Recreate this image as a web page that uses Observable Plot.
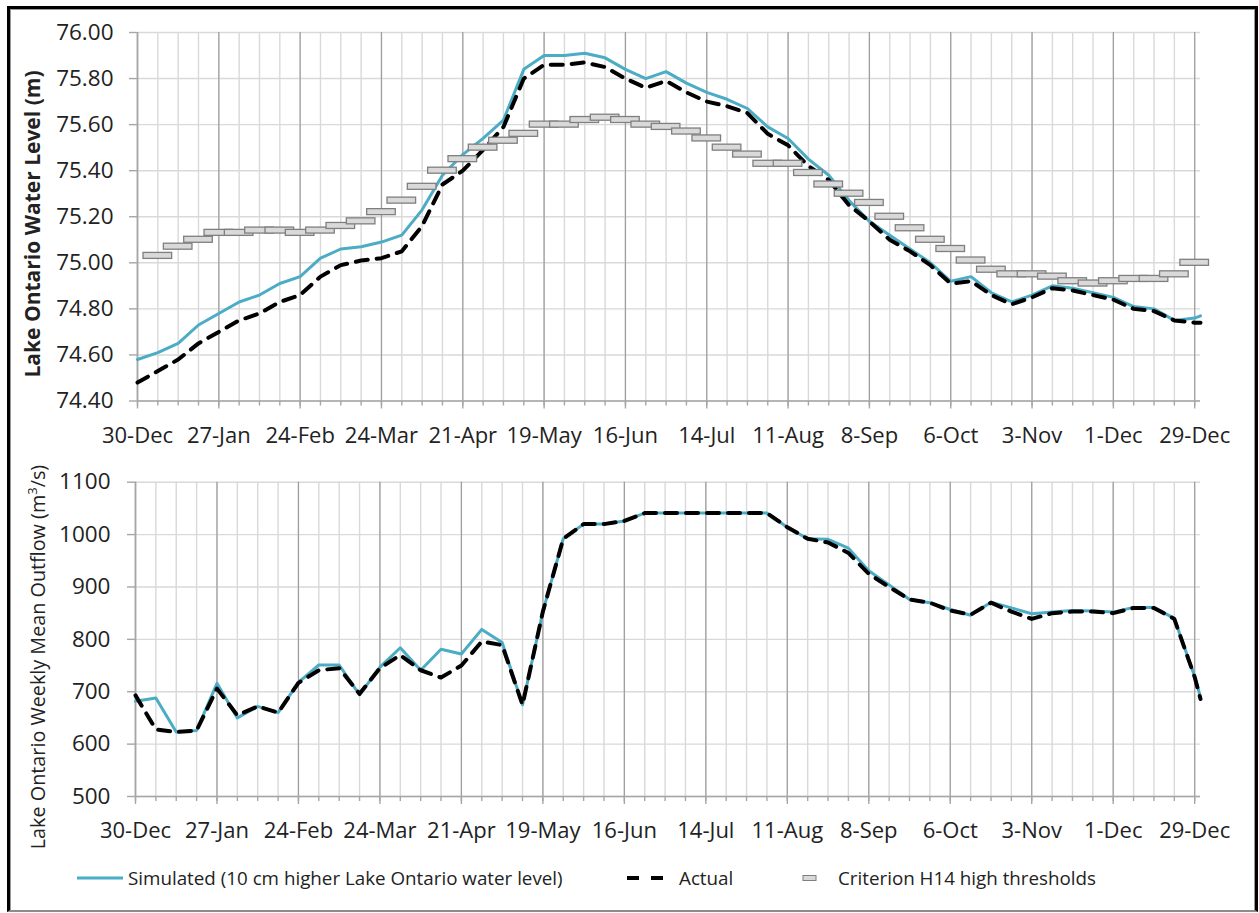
<!DOCTYPE html>
<html>
<head>
<meta charset="utf-8">
<script src="https://cdn.jsdelivr.net/npm/d3@7"></script>
<script src="https://cdn.jsdelivr.net/npm/@observablehq/plot@0.6"></script>
<style>
  body { margin: 0; background: #fff; font-family: "Open Sans", sans-serif; }
  #wrap { position: relative; width: 1259px; height: 913px; overflow: hidden; background: #fff; }
  #frame { position: absolute; left: 7px; top: 6px; width: 1245px; height: 901px;
           border: 3px solid #000; border-bottom: 2px solid #8c8c8c;
           box-shadow: inset 1px 1px 0 #9a9a9a, inset -1px 0 0 #9a9a9a; }
  .panel { position: absolute; left: 0; }
</style>
</head>
<body>
<div id="wrap">
  <div id="frame"></div>
  <div id="top" class="panel" style="top:0px"></div>
  <div id="bottom" class="panel" style="top:450px"></div>
  <div id="legend" class="panel" style="top:850px"></div>
</div>
<script>
// ---------- data ----------
const weeks = d3.range(0, 53);          // weekly points, 30-Dec .. 29-Dec
const yearEnd = 52 + 2 / 7;             // 31-Dec (last point of each series)
const xPoints = [...weeks, yearEnd];

const tickLabels = ["30-Dec","27-Jan","24-Feb","24-Mar","21-Apr","19-May","16-Jun",
                    "14-Jul","11-Aug","8-Sep","6-Oct","3-Nov","1-Dec","29-Dec"];

// Lake Ontario water level (m)
const levelSimulated = [74.58,74.61,74.65,74.73,74.78,74.83,74.86,74.91,74.94,75.02,
  75.06,75.07,75.09,75.12,75.23,75.38,75.47,75.54,75.62,75.84,
  75.90,75.90,75.91,75.89,75.84,75.80,75.83,75.78,75.74,75.71,
  75.67,75.59,75.54,75.45,75.38,75.27,75.18,75.12,75.06,75.00,
  74.92,74.94,74.87,74.83,74.86,74.90,74.89,74.87,74.85,74.81,
  74.80,74.75,74.76,74.77];
const levelActual = [74.48,74.53,74.58,74.65,74.70,74.75,74.78,74.83,74.86,74.94,
  74.99,75.01,75.02,75.05,75.16,75.34,75.40,75.49,75.59,75.80,
  75.86,75.86,75.87,75.85,75.80,75.76,75.79,75.74,75.70,75.68,
  75.65,75.56,75.51,75.42,75.36,75.25,75.18,75.10,75.05,74.99,
  74.91,74.92,74.86,74.82,74.85,74.89,74.88,74.86,74.84,74.80,
  74.79,74.75,74.74,74.74];
// Criterion H14 high thresholds, weeks 1..52
const thresholdWeeks = d3.range(1, 53);
const thresholds = [75.03,75.07,75.10,75.13,75.13,75.14,75.14,75.13,75.14,75.16,
  75.18,75.22,75.27,75.33,75.40,75.45,75.50,75.53,75.56,75.60,
  75.60,75.62,75.63,75.62,75.60,75.59,75.57,75.54,75.50,75.47,
  75.43,75.43,75.39,75.34,75.30,75.26,75.20,75.15,75.10,75.06,
  75.01,74.97,74.95,74.95,74.94,74.92,74.91,74.92,74.93,74.93,
  74.95,75.00];

// Lake Ontario weekly mean outflow (m3/s)
const flowSimulated = [682,688,623,626,716,650,672,660,718,751,
  751,694,747,784,741,781,772,819,794,675,
  853,992,1020,1020,1026,1041,1041,1041,1041,1041,
  1041,1041,1014,992,991,974,931,904,876,870,
  857,846,871,860,849,852,855,854,852,861,
  861,840,729,690];
const flowActual = [693,628,623,626,706,655,672,660,717,741,
  745,696,745,770,741,727,750,796,789,675,
  853,992,1020,1020,1026,1041,1041,1041,1041,1041,
  1041,1041,1014,992,985,965,925,900,876,870,
  855,847,870,853,839,850,853,853,850,860,
  860,839,728,686];

const levelTicks = [74.4,74.6,74.8,75.0,75.2,75.4,75.6,75.8,76.0];
const flowTicks = [500,600,700,800,900,1000,1100];

// ---------- styling ----------
const BLUE = "#4bacc6";
const TEXT = "#222";
const AXIS = "#a6a6a6";
const GRID = "#d9d9d9";
const MAJOR = "#9e9e9e";
const FONT = "Open Sans";
const majorWeeks = tickLabels.map((_, i) => i * 4);

const levelData = xPoints.map((w, i) => ({week: w, sim: levelSimulated[i], act: levelActual[i]}));
const flowData = xPoints.map((w, i) => ({week: w, sim: flowSimulated[i], act: flowActual[i]}));
const thresholdData = thresholdWeeks.map((w, i) => ({week: w, v: thresholds[i]}));

function panel({data, yDomain, yTicks, yFormat, marginLeft, marginTop, marginBottom, height, tickPad, extra}) {
  return Plot.plot({
    width: 1259, height,
    marginLeft, marginRight: 59, marginTop, marginBottom,
    style: {fontFamily: FONT, background: "transparent", overflow: "visible"},
    x: {domain: [0, yearEnd]},
    y: {domain: yDomain},
    marks: [
      Plot.gridY(yTicks, {stroke: GRID, strokeOpacity: 1, strokeWidth: 1.4}),
      Plot.gridX(weeks, {stroke: GRID, strokeOpacity: 1, strokeWidth: 1.4}),
      Plot.gridX(majorWeeks, {stroke: MAJOR, strokeOpacity: 1, strokeWidth: 1.2}),
      Plot.ruleY([yDomain[0]], {stroke: AXIS, strokeWidth: 1.6}),
      Plot.ruleX([0], {stroke: AXIS, strokeWidth: 1.6}),
      Plot.axisY(yTicks, {tickSize: 8, tickPadding: tickPad, tickFormat: yFormat, fontSize: 22.5,
                          stroke: AXIS, strokeWidth: 1.4, fill: TEXT, label: null}),
      Plot.axisX(weeks, {tickSize: 5, fill: "none", stroke: AXIS, strokeWidth: 1.4, label: null}),
      Plot.axisX(majorWeeks, {tickSize: 8, fill: "none", stroke: AXIS, strokeWidth: 1.4, label: null}),
      Plot.axisX(majorWeeks, {tickSize: 0, tickPadding: 26, tickFormat: d => tickLabels[Math.round(d / 4)],
                              fontSize: 22, fill: TEXT, label: null}),
      Plot.line(data, {x: "week", y: "sim", stroke: BLUE, strokeWidth: 3}),
      Plot.line(data, {x: "week", y: "act", stroke: "#000", strokeWidth: 4, strokeDasharray: "12,9"}),
      ...(extra || [])
    ]
  });
}

const topPlot = panel({
  data: levelData, yDomain: [74.4, 76.0], yTicks: levelTicks, yFormat: d => d.toFixed(2),
  marginLeft: 137, marginTop: 32, marginBottom: 49.5, height: 450, tickPad: 16,
  extra: [
    Plot.rect(thresholdData, {x1: "week", x2: "week", y1: "v", y2: "v",
      insetLeft: -14.3, insetRight: -14.3, insetTop: -3, insetBottom: -3,
      fill: "#d9d9d9", stroke: "#7f7f7f", strokeWidth: 1.3})
  ]
});
document.getElementById("top").appendChild(topPlot);
d3.select(topPlot).append("text")
  .attr("transform", "translate(33,224) rotate(-90)")
  .attr("text-anchor", "middle").attr("dy", "0.35em")
  .attr("font-family", FONT).attr("font-size", 21).attr("font-weight", "bold")
  .attr("fill", TEXT)
  .text("Lake Ontario Water Level (m)");

const bottomPlot = panel({
  data: flowData, yDomain: [500, 1100], yTicks: flowTicks, yFormat: d => String(d),
  marginLeft: 135, marginTop: 31.7, marginBottom: 54, height: 400, tickPad: 17
});
document.getElementById("bottom").appendChild(bottomPlot);
const bt = d3.select(bottomPlot).append("text")
  .attr("transform", "translate(38,207) rotate(-90)")
  .attr("text-anchor", "middle").attr("dy", "0.35em")
  .attr("font-family", FONT).attr("font-size", 19.8)
  .attr("fill", TEXT);
bt.append("tspan").text("Lake Ontario Weekly Mean Outflow (m");
bt.append("tspan").attr("font-size", 13).attr("dy", "-0.6em").text("3");
bt.append("tspan").attr("dy", "0.4em").text("/s)");

// ---------- legend ----------
const lg = d3.select("#legend").append("svg").attr("width", 1259).attr("height", 60)
  .style("font-family", FONT);
const ly = 28;
lg.append("line").attr("x1", 77).attr("x2", 123).attr("y1", ly).attr("y2", ly)
  .attr("stroke", BLUE).attr("stroke-width", 3);
lg.append("text").attr("x", 128).attr("y", ly).attr("dy", "0.35em").attr("font-size", 18.8)
  .attr("fill", TEXT).text("Simulated (10 cm higher Lake Ontario water level)");
lg.append("line").attr("x1", 627).attr("x2", 663).attr("y1", ly).attr("y2", ly)
  .attr("stroke", "#000").attr("stroke-width", 4).attr("stroke-dasharray", "12,12");
lg.append("text").attr("x", 679).attr("y", ly).attr("dy", "0.35em").attr("font-size", 18.8)
  .attr("fill", TEXT).text("Actual");
lg.append("rect").attr("x", 803).attr("y", ly - 2.5).attr("width", 13).attr("height", 5)
  .attr("fill", "#d9d9d9").attr("stroke", "#7f7f7f").attr("stroke-width", 1);
lg.append("text").attr("x", 838).attr("y", ly).attr("dy", "0.35em").attr("font-size", 18.8)
  .attr("fill", TEXT).text("Criterion H14 high thresholds");
</script>
</body>
</html>
